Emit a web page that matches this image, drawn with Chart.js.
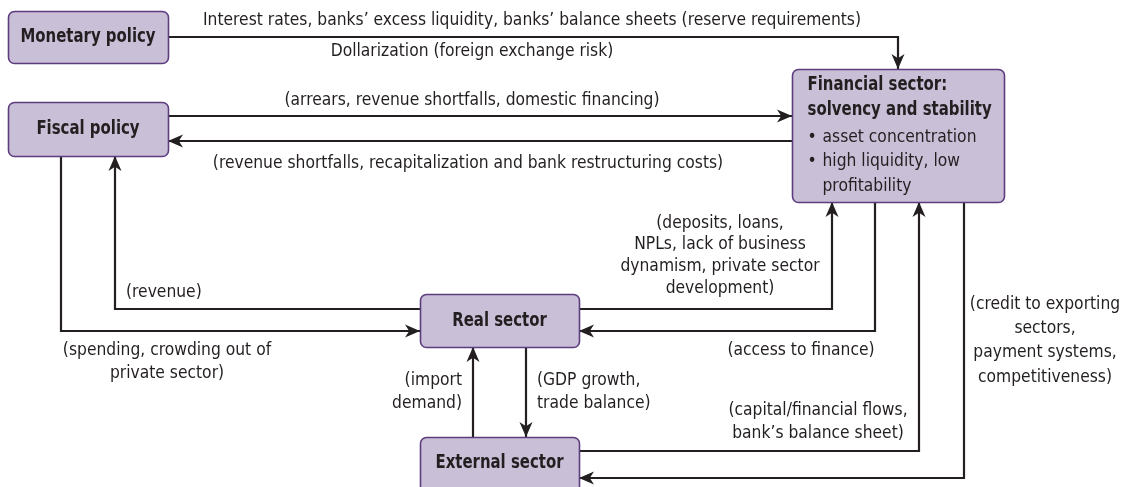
<!DOCTYPE html>
<html>
<head>
<meta charset="utf-8">
<script src="https://cdn.jsdelivr.net/npm/chart.js@4/dist/chart.umd.min.js"></script>
<style>
  html, body { margin: 0; padding: 0; background: #ffffff; }
  #wrap { width: 1127px; height: 487px; }
</style>
</head>
<body>
<div id="wrap"><canvas id="chart" width="1127" height="487"></canvas></div>
<script>
// Boxes (sectors) of the diagram
const boxNames = ['Monetary policy', 'Fiscal policy', 'Financial sector:\nsolvency and stability', 'Real sector', 'External sector'];
const financialBullets = ['asset concentration', 'high liquidity, low\nprofitability'];

// Labels on the flows
const flowLabels = [
    'Interest rates, banks\u2019 excess liquidity, banks\u2019 balance sheets (reserve requirements)',
    'Dollarization (foreign exchange risk)',
    '(arrears, revenue shortfalls, domestic financing)',
    '(revenue shortfalls, recapitalization and bank restructuring costs)',
    '(revenue)',
    '(spending, crowding out of\nprivate sector)',
    '(deposits, loans,\nNPLs, lack of business\ndynamism, private sector\ndevelopment)',
    '(access to finance)',
    '(import\ndemand)',
    '(GDP growth,\ntrade balance)',
    '(capital/financial flows,\nbank\u2019s balance sheet)',
    '(credit to exporting\nsectors,\npayment systems,\ncompetitiveness)'
];

// Which box each flow runs from / to
const flowFrom = [0, 1, 2, 1, 3, 3, 2, 4, 3, 4, 2];
const flowTo   = [2, 2, 1, 3, 1, 2, 3, 3, 4, 2, 4];

// ---- layout (diagram coordinates, same units as the hidden scales) ----
const boxRects = [
    [8, 11, 168, 63],
    [8, 102, 168, 156],
    [792, 69, 1004, 202],
    [420, 294, 579, 347],
    [420, 437, 579, 500]
];
const flowPaths = [
    [[168, 37], [898, 37], [898, 69]],
    [[168, 116], [792, 116]],
    [[792, 141], [168, 141]],
    [[61, 156], [61, 331], [420, 331]],
    [[420, 309], [115, 309], [115, 156]],
    [[579, 309], [832, 309], [832, 202]],
    [[875, 202], [875, 331], [579, 331]],
    [[473, 437], [473, 347]],
    [[526, 347], [526, 437]],
    [[579, 451], [919, 451], [919, 202]],
    [[964, 202], [964, 478], [579, 478]]
];
// [x, y of first line, align, line step]
const labelPos = [
    [532, 20, 'center', 22],
    [472, 51, 'center', 22],
    [472, 100, 'center', 22],
    [468, 163, 'center', 22],
    [126, 292, 'left', 22],
    [167, 350, 'center', 23],
    [720, 223, 'center', 21.7],
    [801, 350, 'center', 22],
    [462, 380, 'right', 23],
    [537, 380, 'left', 23],
    [818, 410, 'center', 23],
    [1045, 304, 'center', 24.3]
];

const INK = '#231f20';
const BOX_FILL = '#c9bfd7';
const BOX_EDGE = '#5e3d7f';
const FONT = "'Liberation Sans Narrow', 'DejaVu Sans Condensed', 'Arial Narrow', sans-serif";

const datasets = flowPaths.map((path, i) => ({
    label: boxNames[flowFrom[i]] + ' -> ' + boxNames[flowTo[i]],
    data: path.map(p => ({ x: p[0], y: p[1] })),
    showLine: true,
    borderColor: INK,
    borderWidth: 2.2,
    borderCapStyle: 'butt',
    borderJoinStyle: 'miter',
    pointRadius: 0,
    tension: 0,
    clip: false
}));

function roundRect(ctx, x, y, w, h, r) {
    ctx.beginPath();
    ctx.moveTo(x + r, y);
    ctx.lineTo(x + w - r, y);
    ctx.arcTo(x + w, y, x + w, y + r, r);
    ctx.lineTo(x + w, y + h - r);
    ctx.arcTo(x + w, y + h, x + w - r, y + h, r);
    ctx.lineTo(x + r, y + h);
    ctx.arcTo(x, y + h, x, y + h - r, r);
    ctx.lineTo(x, y + r);
    ctx.arcTo(x, y, x + r, y, r);
    ctx.closePath();
}

// condensed-looking text: draw a taller font squeezed horizontally
function drawText(ctx, text, x, y, align, bold) {
    ctx.save();
    ctx.font = (bold ? 'bold 20px ' : '18px ') + FONT;
    ctx.textAlign = align;
    ctx.textBaseline = 'middle';
    ctx.translate(x, y);
    ctx.scale(bold ? 0.83 : 0.96, 1);
    ctx.fillText(text, 0, 0);
    ctx.restore();
}

const diagramPlugin = {
    id: 'diagram',
    afterDatasetsDraw(chart) {
        const ctx = chart.ctx;
        const sx = chart.scales.x, sy = chart.scales.y;
        const px = v => sx.getPixelForValue(v);
        const py = v => sy.getPixelForValue(v);
        ctx.save();

        // arrow heads at the end of every flow
        flowPaths.forEach(path => {
            const a = path[path.length - 2], b = path[path.length - 1];
            const x1 = px(a[0]), y1 = py(a[1]), x2 = px(b[0]), y2 = py(b[1]);
            const len = Math.hypot(x2 - x1, y2 - y1);
            const dx = (x2 - x1) / len, dy = (y2 - y1) / len;
            const L = 15, W = 6.5;
            ctx.fillStyle = INK;
            ctx.beginPath();
            ctx.moveTo(x2, y2);
            ctx.lineTo(x2 - dx * L - dy * W, y2 - dy * L + dx * W);
            ctx.lineTo(x2 - dx * L * 0.72, y2 - dy * L * 0.72);
            ctx.lineTo(x2 - dx * L + dy * W, y2 - dy * L - dx * W);
            ctx.closePath();
            ctx.fill();
        });

        // boxes
        boxRects.forEach((r, i) => {
            const x = px(r[0]) + 0.5, y = py(r[1]) + 0.5;
            const w = px(r[2]) - px(r[0]), h = py(r[3]) - py(r[1]);
            roundRect(ctx, x, y, w, h, 6);
            ctx.fillStyle = BOX_FILL;
            ctx.fill();
            ctx.lineWidth = 1.6;
            ctx.strokeStyle = BOX_EDGE;
            ctx.stroke();

            ctx.fillStyle = INK;
            if (i === 2) {
                boxNames[i].split('\n').forEach((t, k) => drawText(ctx, t, x + 15, py(85 + k * 25), 'left', true));
                let row = 0;
                financialBullets.forEach(b => {
                    b.split('\n').forEach((t, k) => {
                        if (k === 0) drawText(ctx, '\u2022', x + 15, py(137 + row * 24.5), 'left', false);
                        drawText(ctx, t, x + 30, py(137 + row * 24.5), 'left', false);
                        row++;
                    });
                });
            } else {
                const cy = i === 4 ? 463 : (r[1] + r[3]) / 2;
                drawText(ctx, boxNames[i], px((r[0] + r[2]) / 2), py(cy), 'center', true);
            }
        });

        // flow labels
        ctx.fillStyle = INK;
        flowLabels.forEach((txt, i) => {
            const p = labelPos[i];
            txt.split('\n').forEach((t, k) => drawText(ctx, t, px(p[0]), py(p[1] + k * p[3]), p[2], false));
        });
        ctx.restore();
    }
};

new Chart(document.getElementById('chart').getContext('2d'), {
    type: 'scatter',
    data: { datasets: datasets },
    options: {
        responsive: false,
        animation: false,
        events: [],
        layout: { padding: 0 },
        plugins: { legend: { display: false }, tooltip: { enabled: false } },
        scales: {
            x: { type: 'linear', min: 0, max: 1127, display: false },
            y: { type: 'linear', min: 0, max: 487, reverse: true, display: false }
        }
    },
    plugins: [diagramPlugin]
});
</script>
</body>
</html>
